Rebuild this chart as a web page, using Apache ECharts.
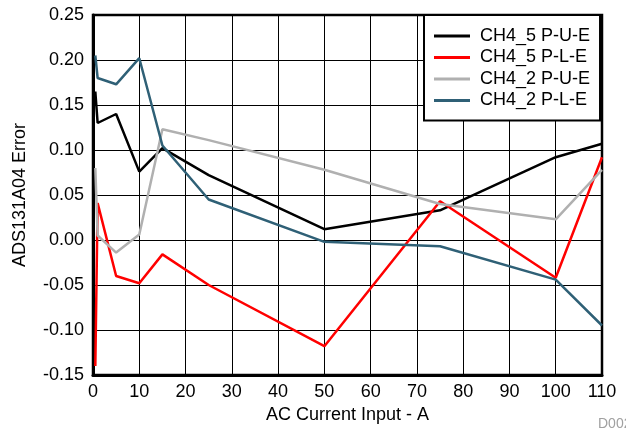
<!DOCTYPE html>
<html>
<head>
<meta charset="utf-8">
<script src="https://cdn.jsdelivr.net/npm/echarts@6/dist/echarts.min.js"></script>
<style>
  html, body { margin: 0; padding: 0; background: #fff; }
  #chart { width: 626px; height: 436px; }
</style>
</head>
<body>
<div id="chart"></div>
<script>
// AC current input (A) at each measurement point
const currents = [0.5, 1, 5, 10, 15, 25, 50, 75, 100, 110];

// Error per channel / configuration
const ch45PUE = [0.165, 0.13, 0.14, 0.076, 0.102, 0.072, 0.012, 0.033, 0.092, 0.107];
const ch45PLE = [-0.14, 0.041, -0.040, -0.048, -0.016, -0.050, -0.118, 0.043, -0.042, 0.092];
const ch42PUE = [0.08, 0.005, -0.014, 0.006, 0.123, 0.111, 0.078, 0.04, 0.023, 0.078];
const ch42PLE = [0.205, 0.18, 0.173, 0.202, 0.105, 0.045, -0.002, -0.007, -0.044, -0.095];

const seriesNames = ['CH4_5 P-U-E', 'CH4_5 P-L-E', 'CH4_2 P-U-E', 'CH4_2 P-L-E'];
const seriesColors = ['#000000', '#ff0000', '#b0b0b0', '#2f6076'];
const seriesValues = [ch45PUE, ch45PLE, ch42PUE, ch42PLE];

const FONT = '"Liberation Sans", Arial, sans-serif';

const chart = echarts.init(document.getElementById('chart'), null, { renderer: 'canvas' });

chart.setOption({
  animation: false,
  backgroundColor: '#fff',
  grid: {
    left: 93, right: 24, top: 15, bottom: 61,
    show: true, borderColor: '#000', borderWidth: 2.5, backgroundColor: 'transparent'
  },
  legend: {
    orient: 'vertical',
    left: 424, top: 15,
    padding: [11, 10, 10, 10],
    icon: 'rect',
    itemWidth: 36, itemHeight: 3, itemGap: 1.5,
    backgroundColor: '#fff',
    borderColor: '#000', borderWidth: 2,
    textStyle: { fontFamily: FONT, fontSize: 18, color: '#000', lineHeight: 20, padding: [0, 0, 0, 5] },
    data: seriesNames
  },
  xAxis: {
    type: 'value', min: 0, max: 110, interval: 10,
    name: 'AC Current Input - A', nameLocation: 'middle', nameGap: 28,
    nameTextStyle: { fontFamily: FONT, fontSize: 18, color: '#000' },
    axisLine: { show: true, onZero: false, lineStyle: { color: '#000', width: 3 } },
    axisTick: { show: false },
    axisLabel: { fontFamily: FONT, fontSize: 18, color: '#000', margin: 8 },
    splitLine: { show: true, lineStyle: { color: '#000', width: 1 } }
  },
  yAxis: {
    type: 'value', min: -0.15, max: 0.25, interval: 0.05,
    name: 'ADS131A04 Error', nameLocation: 'middle', nameGap: 64, nameRotate: 90,
    nameTextStyle: { fontFamily: FONT, fontSize: 18, color: '#000' },
    axisLine: { show: true, onZero: false, lineStyle: { color: '#000', width: 3 } },
    axisTick: { show: false },
    axisLabel: {
      fontFamily: FONT, fontSize: 18, color: '#000', margin: 9,
      formatter: v => v.toFixed(2)
    },
    splitLine: { show: true, lineStyle: { color: '#000', width: 1 } }
  },
  graphic: [{
    type: 'text', left: 598, top: 417,
    style: { text: 'D002', fontFamily: FONT, fontSize: 14, fill: '#a0a0a0' }
  }],
  series: seriesNames.map((name, i) => ({
    name,
    type: 'line',
    symbol: 'none',
    color: seriesColors[i],
    lineStyle: { color: seriesColors[i], width: 2.5 },
    data: currents.map((c, j) => [c, seriesValues[i][j]])
  }))
});
</script>
</body>
</html>
